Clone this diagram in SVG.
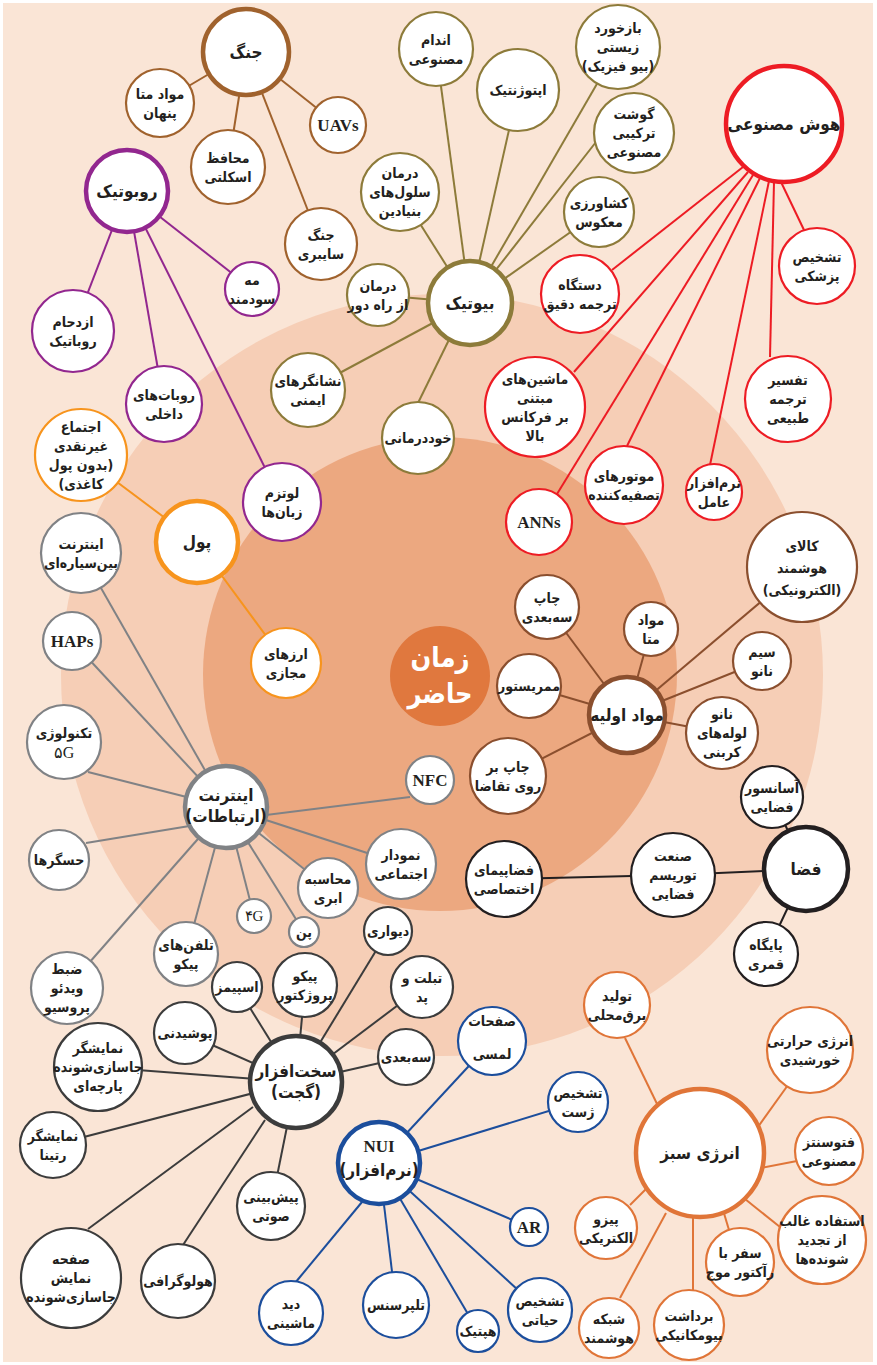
<svg xmlns="http://www.w3.org/2000/svg" width="877" height="1365" viewBox="0 0 877 1365">
<style>
.t{font-family:"DejaVu Sans Condensed","DejaVu Sans",sans-serif;font-weight:bold;font-size:14px;fill:#231F20;text-anchor:middle;direction:rtl}
.h{font-family:"DejaVu Sans Condensed","DejaVu Sans",sans-serif;font-weight:bold;font-size:17px;fill:#231F20;text-anchor:middle;direction:rtl}
.l{font-family:"Liberation Serif",serif;font-weight:bold;font-size:17px;fill:#231F20;text-anchor:middle}
.n{fill:#fff;stroke-width:2.2}
.hub{fill:#fff;stroke-width:4.5}
.war{stroke:#A0622D}.rob{stroke:#92278F}.bio{stroke:#8D7B3A}.ai{stroke:#ED1C24}.mon{stroke:#F7941D}
.net{stroke:#808285}.mat{stroke:#8B4F2E}.spc{stroke:#231F20}.hw{stroke:#3C3C3C}.nui{stroke:#1C4E9C}.grn{stroke:#E07538}
#connectors line{stroke-width:2}
</style>
<rect x="0" y="0" width="877" height="1365" fill="#fff"/>
<rect x="3" y="3" width="870" height="1359" fill="#FAE5D6"/>
<circle cx="442" cy="675" r="381" fill="#F6CEB6"/>
<circle cx="440" cy="674" r="237" fill="#ECA880"/>
<g id="connectors">
<g class="war">
<line x1="246" y1="52" x2="160" y2="103"/><line x1="246" y1="52" x2="228" y2="167"/><line x1="246" y1="52" x2="338" y2="125"/><line x1="246" y1="52" x2="321" y2="244"/>
</g>
<g class="rob">
<line x1="127" y1="191" x2="73" y2="331"/><line x1="127" y1="191" x2="164" y2="404"/><line x1="127" y1="191" x2="282" y2="502"/><line x1="127" y1="191" x2="252" y2="289"/>
</g>
<g class="mon">
<line x1="197" y1="542" x2="81" y2="455"/><line x1="197" y1="542" x2="286" y2="663"/>
</g>
<g class="bio">
<line x1="470" y1="303" x2="436" y2="49"/><line x1="470" y1="303" x2="518" y2="90"/><line x1="470" y1="303" x2="605" y2="70"/><line x1="470" y1="303" x2="596" y2="142"/><line x1="470" y1="303" x2="599" y2="212"/><line x1="470" y1="303" x2="400" y2="192"/><line x1="470" y1="303" x2="378" y2="295"/><line x1="470" y1="303" x2="308" y2="390"/><line x1="467" y1="303" x2="418" y2="403"/>
</g>
<g class="ai">
<line x1="743" y1="167" x2="612" y2="270"/><line x1="748" y1="172" x2="574" y2="372"/><line x1="753" y1="175" x2="557" y2="494"/><line x1="760" y1="178" x2="627" y2="446"/><line x1="769" y1="181" x2="710" y2="465"/><line x1="774" y1="182" x2="770" y2="357"/><line x1="781" y1="182" x2="804" y2="230"/>
</g>
<g class="net">
<line x1="226" y1="807" x2="81" y2="553"/><line x1="226" y1="807" x2="72" y2="641"/><line x1="226" y1="807" x2="88" y2="772"/><line x1="226" y1="820" x2="86" y2="843"/><line x1="226" y1="807" x2="67" y2="988"/><line x1="226" y1="807" x2="186" y2="954"/><line x1="226" y1="807" x2="254" y2="916"/><line x1="226" y1="807" x2="304" y2="932"/><line x1="226" y1="807" x2="328" y2="888"/><line x1="226" y1="807" x2="401" y2="864"/><line x1="226" y1="820" x2="410" y2="797"/>
</g>
<g class="hw">
<line x1="296" y1="1082" x2="237" y2="987"/><line x1="296" y1="1082" x2="305" y2="985"/><line x1="296" y1="1082" x2="388" y2="931"/><line x1="296" y1="1082" x2="422" y2="987"/><line x1="296" y1="1082" x2="406" y2="1057"/><line x1="296" y1="1082" x2="185" y2="1033"/><line x1="296" y1="1082" x2="98" y2="1067"/><line x1="296" y1="1082" x2="53" y2="1145"/><line x1="253" y1="1107" x2="88" y2="1229"/><line x1="265" y1="1120" x2="183" y2="1245"/><line x1="296" y1="1082" x2="271" y2="1206"/>
</g>
<g class="nui">
<line x1="379" y1="1163" x2="492" y2="1041"/><line x1="379" y1="1163" x2="578" y2="1102"/><line x1="379" y1="1163" x2="529" y2="1227"/><line x1="379" y1="1163" x2="540" y2="1310"/><line x1="379" y1="1163" x2="478" y2="1331"/><line x1="379" y1="1163" x2="396" y2="1305"/><line x1="362" y1="1202" x2="295" y2="1283"/>
</g>
<g class="grn">
<line x1="625" y1="1038" x2="660" y2="1110"/><line x1="788" y1="1085" x2="745" y2="1145"/><line x1="797" y1="1161" x2="750" y2="1170"/><line x1="780" y1="1227" x2="740" y2="1195"/><line x1="729" y1="1230" x2="720" y2="1200"/><line x1="693" y1="1291" x2="693" y2="1210"/><line x1="620" y1="1298" x2="666" y2="1213"/><line x1="630" y1="1205" x2="650" y2="1185"/>
</g>
<g class="spc">
<line x1="504" y1="879" x2="673" y2="875"/><line x1="673" y1="875" x2="806" y2="869"/><line x1="806" y1="869" x2="772" y2="797"/><line x1="806" y1="869" x2="766" y2="954"/>
</g>
<g class="mat">
<line x1="627" y1="715" x2="547" y2="607"/><line x1="627" y1="715" x2="651" y2="629"/><line x1="627" y1="715" x2="762" y2="661"/><line x1="627" y1="715" x2="802" y2="567"/><line x1="627" y1="715" x2="722" y2="733"/><line x1="627" y1="715" x2="529" y2="686"/><line x1="627" y1="715" x2="508" y2="776"/>
</g>
</g>

<g id="zaman-hazer"><circle cx="440" cy="676" r="50" fill="#E0783E"/><text x="440" y="667" text-anchor="middle" direction="rtl" font-family="DejaVu Sans Condensed, DejaVu Sans, sans-serif" font-weight="bold" font-size="27" fill="#fff">زمان</text><text x="440" y="703" text-anchor="middle" direction="rtl" font-family="DejaVu Sans Condensed, DejaVu Sans, sans-serif" font-weight="bold" font-size="27" fill="#fff">حاضر</text></g>

<!-- War -->
<g id="jang"><circle class="hub war" cx="246" cy="52" r="43"/><text class="h" x="246" y="58" font-size="19">جنگ</text></g>
<g id="mavad-penhan"><circle class="n war" cx="160" cy="103" r="34"/><text class="t" y="99"><tspan x="160">مواد متا</tspan><tspan x="160" dy="19">پنهان</tspan></text></g>
<g id="mohafez"><circle class="n war" cx="228" cy="167" r="37"/><text class="t" y="163"><tspan x="228">محافظ</tspan><tspan x="228" dy="19">اسکلتی</tspan></text></g>
<g id="uavs"><circle class="n war" cx="338" cy="125" r="28"/><text class="l" x="338" y="131">UAVs</text></g>
<g id="jang-saiberi"><circle class="n war" cx="321" cy="244" r="36"/><text class="t" y="240"><tspan x="321">جنگ</tspan><tspan x="321" dy="19">سایبری</tspan></text></g>

<!-- Robotics -->
<g id="robotic"><circle class="hub rob" cx="127" cy="191" r="41"/><text class="h" x="127" y="197">روبوتیک</text></g>
<g id="meh"><circle class="n rob" cx="252" cy="289" r="27"/><text class="t" y="285" font-size="13"><tspan x="252">مه</tspan><tspan x="252" dy="19">سودمند</tspan></text></g>
<g id="ezdeham"><circle class="n rob" cx="73" cy="331" r="41"/><text class="t" y="327"><tspan x="73">ازدحام</tspan><tspan x="73" dy="19">روباتیک</tspan></text></g>
<g id="robat-dakheli"><circle class="n rob" cx="164" cy="404" r="38"/><text class="t" y="400"><tspan x="164">روبات‌های</tspan><tspan x="164" dy="19">داخلی</tspan></text></g>
<g id="lotzm"><circle class="n rob" cx="282" cy="502" r="39"/><text class="t" y="498"><tspan x="282">لوتزم</tspan><tspan x="282" dy="19">زبان‌ها</tspan></text></g>

<!-- Money -->
<g id="pool"><circle class="hub mon" cx="197" cy="542" r="41"/><text class="h" x="197" y="548">پول</text></g>
<g id="ejtema"><circle class="n mon" cx="81" cy="455" r="46"/><text class="t" y="432"><tspan x="81">اجتماع</tspan><tspan x="81" dy="19">غیرنقدی</tspan><tspan x="81" dy="19">(بدون پول</tspan><tspan x="81" dy="19">کاغذی)</tspan></text></g>
<g id="arzha"><circle class="n mon" cx="286" cy="663" r="35"/><text class="t" y="659"><tspan x="286">ارزهای</tspan><tspan x="286" dy="19">مجازی</tspan></text></g>

<!-- Bio -->
<g id="biotic"><circle class="hub bio" cx="470" cy="303" r="42"/><text class="h" x="470" y="309">بیوتیک</text></g>
<g id="andam"><circle class="n bio" cx="436" cy="49" r="37"/><text class="t" y="45"><tspan x="436">اندام</tspan><tspan x="436" dy="19">مصنوعی</tspan></text></g>
<g id="opto"><circle class="n bio" cx="518" cy="90" r="41"/><text class="t" x="518" y="95">اپتوژنتیک</text></g>
<g id="bazkhord"><circle class="n bio" cx="618" cy="47" r="42"/><text class="t" y="33"><tspan x="618">بازخورد</tspan><tspan x="618" dy="19">زیستی</tspan><tspan x="618" dy="19">(بیو فیزیک)</tspan></text></g>
<g id="goosht"><circle class="n bio" cx="634" cy="133" r="40"/><text class="t" y="119"><tspan x="634">گوشت</tspan><tspan x="634" dy="19">ترکیبی</tspan><tspan x="634" dy="19">مصنوعی</tspan></text></g>
<g id="keshavarzi"><circle class="n bio" cx="599" cy="212" r="35"/><text class="t" y="208"><tspan x="599">کشاورزی</tspan><tspan x="599" dy="19">معکوس</tspan></text></g>
<g id="darman-sellul"><circle class="n bio" cx="400" cy="192" r="39"/><text class="t" y="178"><tspan x="400">درمان</tspan><tspan x="400" dy="19">سلول‌های</tspan><tspan x="400" dy="19">بنیادین</tspan></text></g>
<g id="darman-dour"><circle class="n bio" cx="378" cy="295" r="31"/><text class="t" y="291" font-size="13"><tspan x="378">درمان</tspan><tspan x="378" dy="19">از راه دور</tspan></text></g>
<g id="neshangar"><circle class="n bio" cx="308" cy="390" r="37"/><text class="t" y="386"><tspan x="308">نشانگرهای</tspan><tspan x="308" dy="19">ایمنی</tspan></text></g>
<g id="khoddarmani"><circle class="n bio" cx="418" cy="438" r="36"/><text class="t" x="418" y="443">خوددرمانی</text></g>

<!-- AI -->
<g id="hoosh"><circle class="hub ai" cx="784" cy="124" r="58"/><text class="h" x="784" y="130">هوش مصنوعی</text></g>
<g id="pezeshki"><circle class="n ai" cx="817" cy="266" r="38"/><text class="t" y="262"><tspan x="817">تشخیص</tspan><tspan x="817" dy="19">پزشکی</tspan></text></g>
<g id="dastgah"><circle class="n ai" cx="580" cy="294" r="39"/><text class="t" y="290"><tspan x="580">دستگاه</tspan><tspan x="580" dy="19">ترجمه دقیق</tspan></text></g>
<g id="tafsir"><circle class="n ai" cx="788" cy="399" r="43"/><text class="t" y="385"><tspan x="788">تفسیر</tspan><tspan x="788" dy="19">ترجمه</tspan><tspan x="788" dy="19">طبیعی</tspan></text></g>
<g id="mashin"><circle class="n ai" cx="535" cy="407" r="50"/><text class="t" y="384"><tspan x="535">ماشین‌های</tspan><tspan x="535" dy="19">مبتنی</tspan><tspan x="535" dy="19">بر فرکانس</tspan><tspan x="535" dy="19">بالا</tspan></text></g>
<g id="motor"><circle class="n ai" cx="624" cy="485" r="39"/><text class="t" y="481" font-size="13.5"><tspan x="624">موتورهای</tspan><tspan x="624" dy="19">تصفیه‌کننده</tspan></text></g>
<g id="narmafzar-amel"><circle class="n ai" cx="714" cy="492" r="28"/><text class="t" y="488" font-size="12.5"><tspan x="714">نرم‌افزار</tspan><tspan x="714" dy="19">عامل</tspan></text></g>
<g id="anns"><circle class="n ai" cx="539" cy="522" r="33"/><text class="l" x="539" y="528">ANNs</text></g>

<!-- Materials -->
<g id="mavad-avalie"><circle class="hub mat" cx="627" cy="715" r="38"/><text class="h" x="627" y="721" font-size="16">مواد اولیه</text></g>
<g id="chap3d"><circle class="n mat" cx="547" cy="607" r="32"/><text class="t" y="603"><tspan x="547">چاپ</tspan><tspan x="547" dy="19">سه‌بعدی</tspan></text></g>
<g id="mavad-meta"><circle class="n mat" cx="651" cy="629" r="27"/><text class="t" y="625"><tspan x="651">مواد</tspan><tspan x="651" dy="19">متا</tspan></text></g>
<g id="sim-nano"><circle class="n mat" cx="762" cy="661" r="29"/><text class="t" y="657"><tspan x="762">سیم</tspan><tspan x="762" dy="19">نانو</tspan></text></g>
<g id="kala"><circle class="n mat" cx="802" cy="567" r="55"/><text class="t" y="551" font-size="16.5"><tspan x="802">کالای</tspan><tspan x="802" dy="22">هوشمند</tspan><tspan x="802" dy="22">(الکترونیکی)</tspan></text></g>
<g id="nanolole"><circle class="n mat" cx="722" cy="733" r="36"/><text class="t" y="719"><tspan x="722">نانو</tspan><tspan x="722" dy="19">لوله‌های</tspan><tspan x="722" dy="19">کربنی</tspan></text></g>
<g id="memristor"><circle class="n mat" cx="529" cy="686" r="32"/><text class="t" x="529" y="691">ممریستور</text></g>
<g id="chap-taghaza"><circle class="n mat" cx="508" cy="776" r="38"/><text class="t" y="772"><tspan x="508">چاپ بر</tspan><tspan x="508" dy="19">روی تقاضا</tspan></text></g>

<!-- Space -->
<g id="faza"><circle class="hub spc" cx="806" cy="869" r="42"/><text class="h" x="806" y="875">فضا</text></g>
<g id="asansor"><circle class="n spc" cx="772" cy="797" r="31"/><text class="t" y="793"><tspan x="772">آسانسور</tspan><tspan x="772" dy="19">فضایی</tspan></text></g>
<g id="sanat"><circle class="n spc" cx="673" cy="875" r="42"/><text class="t" y="861"><tspan x="673">صنعت</tspan><tspan x="673" dy="19">توریسم</tspan><tspan x="673" dy="19">فضایی</tspan></text></g>
<g id="fazapeyma"><circle class="n spc" cx="504" cy="879" r="38"/><text class="t" y="875"><tspan x="504">فضاپیمای</tspan><tspan x="504" dy="19">اختصاصی</tspan></text></g>
<g id="paygah"><circle class="n spc" cx="766" cy="954" r="32"/><text class="t" y="950"><tspan x="766">پایگاه</tspan><tspan x="766" dy="19">قمری</tspan></text></g>

<!-- Internet -->
<g id="internet"><circle class="hub net" cx="226" cy="807" r="41"/><text class="h" y="801" font-size="16"><tspan x="226">اینترنت</tspan><tspan x="226" dy="21">(ارتباطات)</tspan></text></g>
<g id="beynsayare"><circle class="n net" cx="81" cy="553" r="40"/><text class="t" y="549"><tspan x="81">اینترنت</tspan><tspan x="81" dy="19">بین‌سیاره‌ای</tspan></text></g>
<g id="haps"><circle class="n net" cx="72" cy="641" r="29"/><text class="l" x="72" y="647">HAPs</text></g>
<g id="tech5g"><circle class="n net" cx="64" cy="742" r="37"/><text class="t" y="738"><tspan x="64">تکنولوژی</tspan><tspan x="64" dy="20" font-family="Liberation Serif, serif" font-weight="normal" font-size="16" direction="ltr">۵G</tspan></text></g>
<g id="hasgarha"><circle class="n net" cx="59" cy="860" r="30"/><text class="t" x="59" y="865">حسگرها</text></g>
<g id="zabt"><circle class="n net" cx="67" cy="988" r="36"/><text class="t" y="974"><tspan x="67">ضبط</tspan><tspan x="67" dy="19">ویدئو</tspan><tspan x="67" dy="19">پروسیو</tspan></text></g>
<g id="telefon-piko"><circle class="n net" cx="186" cy="954" r="32"/><text class="t" y="950"><tspan x="186">تلفن‌های</tspan><tspan x="186" dy="19">پیکو</tspan></text></g>
<g id="g4"><circle class="n net" cx="254" cy="916" r="17"/><text x="254" y="921" text-anchor="middle" font-family="Liberation Serif, serif" font-size="15" fill="#231F20">۴G</text></g>
<g id="pen"><circle class="n net" cx="304" cy="932" r="15"/><text class="t" x="304" y="937" font-size="13.5">پن</text></g>
<g id="mohasebe"><circle class="n net" cx="328" cy="888" r="30"/><text class="t" y="884"><tspan x="328">محاسبه</tspan><tspan x="328" dy="19">ابری</tspan></text></g>
<g id="nemoodar"><circle class="n net" cx="401" cy="864" r="35"/><text class="t" y="860"><tspan x="401">نمودار</tspan><tspan x="401" dy="19">اجتماعی</tspan></text></g>
<g id="nfc"><circle class="n net" cx="430" cy="780" r="24"/><text class="l" x="430" y="786" font-size="16">NFC</text></g>

<!-- Hardware -->
<g id="sakhtafzar"><circle class="hub hw" cx="296" cy="1082" r="46"/><text class="h" y="1077"><tspan x="296">سخت‌افزار</tspan><tspan x="296" dy="21">(گجت)</tspan></text></g>
<g id="espimz"><circle class="n hw" cx="237" cy="987" r="25"/><text class="t" x="237" y="992" font-size="13">اسپیمز</text></g>
<g id="pikoproj"><circle class="n hw" cx="305" cy="985" r="32"/><text class="t" y="981"><tspan x="305">پیکو</tspan><tspan x="305" dy="19">پروژکتور</tspan></text></g>
<g id="divari"><circle class="n hw" cx="388" cy="931" r="24"/><text class="t" x="388" y="936">دیواری</text></g>
<g id="tablet"><circle class="n hw" cx="422" cy="987" r="31"/><text class="t" y="983"><tspan x="422">تبلت و</tspan><tspan x="422" dy="19">پد</tspan></text></g>
<g id="sebodi"><circle class="n hw" cx="406" cy="1057" r="28"/><text class="t" x="406" y="1062">سه‌بعدی</text></g>
<g id="pooshidani"><circle class="n hw" cx="185" cy="1033" r="31"/><text class="t" x="185" y="1038">پوشیدنی</text></g>
<g id="parche"><circle class="n hw" cx="98" cy="1067" r="44"/><text class="t" y="1053"><tspan x="98">نمایشگر</tspan><tspan x="98" dy="19">جاسازی‌شونده</tspan><tspan x="98" dy="19">پارچه‌ای</tspan></text></g>
<g id="retina"><circle class="n hw" cx="53" cy="1145" r="33"/><text class="t" y="1141"><tspan x="53">نمایشگر</tspan><tspan x="53" dy="19">رتینا</tspan></text></g>
<g id="safhe"><circle class="n hw" cx="71" cy="1278" r="50"/><text class="t" y="1264"><tspan x="71">صفحه</tspan><tspan x="71" dy="19">نمایش</tspan><tspan x="71" dy="19">جاسازی‌شونده</tspan></text></g>
<g id="holo"><circle class="n hw" cx="178" cy="1281" r="37"/><text class="t" x="178" y="1286">هولوگرافی</text></g>
<g id="pishbini"><circle class="n hw" cx="271" cy="1206" r="34"/><text class="t" y="1202"><tspan x="271">پیش‌بینی</tspan><tspan x="271" dy="19">صوتی</tspan></text></g>

<!-- NUI -->
<g id="nui"><circle class="hub nui" cx="379" cy="1163" r="41"/><text class="l" x="379" y="1152" font-size="22">NUI</text><text class="h" x="379" y="1176" font-size="15">(نرم‌افزار)</text></g>
<g id="safahat"><circle class="n nui" cx="492" cy="1041" r="34"/><text class="t" y="1026"><tspan x="492">صفحات</tspan><tspan x="492" dy="33">لمسی</tspan></text></g>
<g id="zhest"><circle class="n nui" cx="578" cy="1102" r="30"/><text class="t" y="1098"><tspan x="578">تشخیص</tspan><tspan x="578" dy="19">ژست</tspan></text></g>
<g id="ar"><circle class="n nui" cx="529" cy="1227" r="19"/><text class="l" x="529" y="1233" font-size="16">AR</text></g>
<g id="hayati"><circle class="n nui" cx="540" cy="1310" r="32"/><text class="t" y="1306"><tspan x="540">تشخیص</tspan><tspan x="540" dy="19">حیاتی</tspan></text></g>
<g id="haptic"><circle class="n nui" cx="478" cy="1331" r="21"/><text class="t" x="478" y="1336" font-size="12.5">هپتیک</text></g>
<g id="telepresence"><circle class="n nui" cx="396" cy="1305" r="33"/><text class="t" x="396" y="1310">تلپرسنس</text></g>
<g id="did-mashini"><circle class="n nui" cx="291" cy="1313" r="32"/><text class="t" y="1309"><tspan x="291">دید</tspan><tspan x="291" dy="19">ماشینی</tspan></text></g>

<!-- Green energy -->
<g id="energy-sabz"><circle class="hub grn" cx="700" cy="1153" r="64"/><text class="h" x="700" y="1159">انرژی سبز</text></g>
<g id="tolid"><circle class="n grn" cx="617" cy="1005" r="33"/><text class="t" y="1001"><tspan x="617">تولید</tspan><tspan x="617" dy="19">برق‌محلی</tspan></text></g>
<g id="harareti"><circle class="n grn" cx="810" cy="1050" r="43"/><text class="t" y="1046"><tspan x="810">انرژی حرارتی</tspan><tspan x="810" dy="19">خورشیدی</tspan></text></g>
<g id="fotosentez"><circle class="n grn" cx="829" cy="1151" r="34"/><text class="t" y="1147"><tspan x="829">فتوسنتز</tspan><tspan x="829" dy="19">مصنوعی</tspan></text></g>
<g id="estefade"><circle class="n grn" cx="822" cy="1240" r="44"/><text class="t" y="1226"><tspan x="822">استفاده غالب</tspan><tspan x="822" dy="19">از تجدید</tspan><tspan x="822" dy="19">شونده‌ها</tspan></text></g>
<g id="safar"><circle class="n grn" cx="740" cy="1262" r="34"/><text class="t" y="1258"><tspan x="740">سفر با</tspan><tspan x="740" dy="19">رآکتور موج</tspan></text></g>
<g id="bardasht"><circle class="n grn" cx="689" cy="1325" r="35"/><text class="t" y="1321" font-size="13.5"><tspan x="689">برداشت</tspan><tspan x="689" dy="19">بیومکانیکی</tspan></text></g>
<g id="shabake"><circle class="n grn" cx="609" cy="1328" r="30"/><text class="t" y="1324"><tspan x="609">شبکه</tspan><tspan x="609" dy="19">هوشمند</tspan></text></g>
<g id="piezo"><circle class="n grn" cx="606" cy="1228" r="31"/><text class="t" y="1224"><tspan x="606">پیزو</tspan><tspan x="606" dy="19">الکتریکی</tspan></text></g>
</svg>
